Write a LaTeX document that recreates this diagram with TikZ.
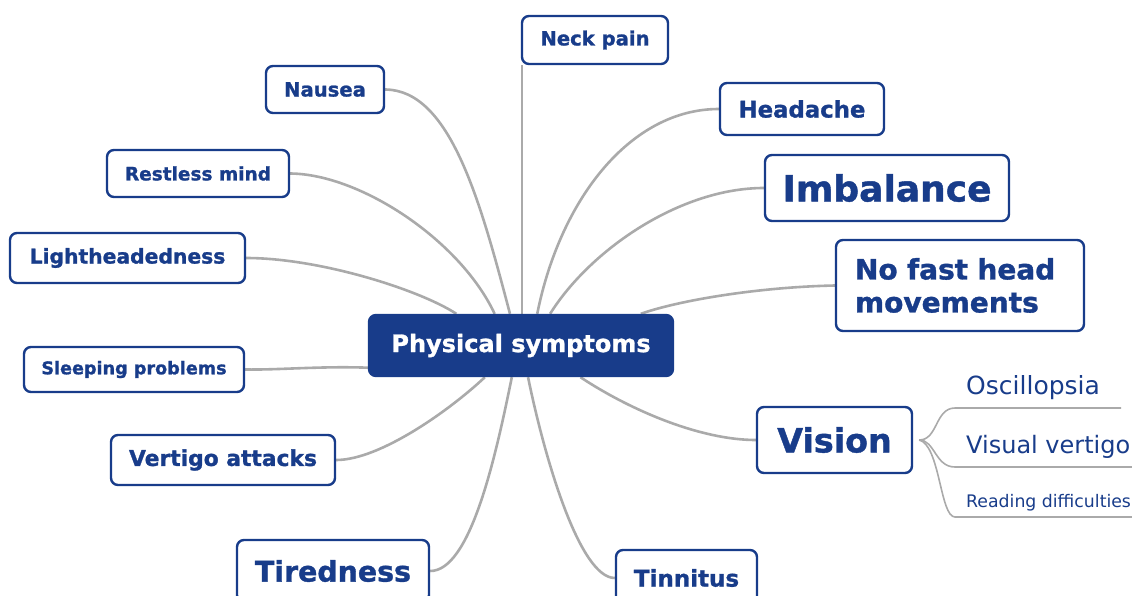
\documentclass[tikz,border=0pt]{standalone}
\usepackage{fontspec}
\setmainfont{DejaVu Sans}[BoldFeatures={FakeBold=1.2}]
\usetikzlibrary{calc,backgrounds}
\definecolor{navy}{RGB}{24,60,138}
\definecolor{conn}{RGB}{170,170,170}
\newcommand\fsz[1]{\fontsize{#1}{#1}\selectfont}
\begin{document}
\begin{tikzpicture}[x=1pt,y=-1pt,
  box/.style={draw=navy, line width=2.4pt, rounded corners=7pt, fill=white, text=navy, inner sep=0pt},
  link/.style={draw=conn, line width=2.6pt},
  sublink/.style={draw=conn, line width=1.6pt},
  sub/.style={text=navy, anchor=base west, inner sep=0pt}]
\useasboundingbox (0,0) rectangle (1132,595);
\clip (0,0) rectangle (1132,595);

% centre
\node[box, fill=navy, text=white, minimum width=304, minimum height=61, font=\bfseries\fsz{24}] (ps) at (521,345.5) {Physical symptoms};

% branches
\node[box, minimum width=146, minimum height=48, font=\bfseries\fsz{19.6}] (neck) at (595,40) {Neck pain};
\node[box, minimum width=118, minimum height=47, font=\bfseries\fsz{19.6}] (nausea) at (325,89.5) {Nausea};
\node[box, minimum width=164, minimum height=52, font=\bfseries\fsz{22.8}] (head) at (802,109) {Headache};
\node[box, minimum width=244, minimum height=66, font=\bfseries\fsz{36}] (imb) at (887,188) {Imbalance};
\node[box, text width=210, inner xsep=19, minimum height=91, align=left, font=\bfseries\fontsize{28}{33}\selectfont] (fast) at (960,285.5) {No fast head\\movements};
\node[box, minimum width=182, minimum height=47, font=\bfseries\fsz{18.5}] (rest) at (198,173.5) {Restless mind};
\node[box, minimum width=235, minimum height=50, font=\bfseries\fsz{20.3}] (light) at (127.5,258) {Lightheadedness};
\node[box, minimum width=220, minimum height=45, font=\bfseries\fsz{17.6}] (sleep) at (134,369.5) {Sleeping problems};
\node[box, minimum width=224, minimum height=50, font=\bfseries\fsz{21.8}] (vert) at (223,460) {Vertigo attacks};
\node[box, minimum width=192, minimum height=62, font=\bfseries\fsz{28.4}] (tired) at (333,571) {Tiredness};
\node[box, minimum width=141, minimum height=56, font=\bfseries\fsz{23}] (tinn) at (686.5,578) {Tinnitus};
\node[box, minimum width=155, minimum height=66, font=\bfseries\fsz{33.3}] (vision) at (834.5,440) {Vision};

% vision sub-items
\node[sub, font=\fsz{25}] (osc) at (966,394) {Oscillopsia};
\node[sub, font=\fsz{24}] (vv) at (966,453) {Visual vertigo};
\node[sub, font=\fsz{17.3}] (read) at (966,507) {Reading difficulties};

% anchor points on the centre box
\coordinate (t1) at ($(ps.north west)!0.289!(ps.north east)$);
\coordinate (t2) at ($(ps.north west)!0.414!(ps.north east)$);
\coordinate (t3) at ($(ps.north west)!0.464!(ps.north east)$);
\coordinate (t4) at ($(ps.north west)!0.503!(ps.north east)$);
\coordinate (t5) at ($(ps.north west)!0.553!(ps.north east)$);
\coordinate (t6) at ($(ps.north west)!0.595!(ps.north east)$);
\coordinate (t7) at ($(ps.north west)!0.891!(ps.north east)$);
\coordinate (b1) at ($(ps.south west)!0.382!(ps.south east)$);
\coordinate (b2) at ($(ps.south west)!0.470!(ps.south east)$);
\coordinate (b3) at ($(ps.south west)!0.523!(ps.south east)$);
\coordinate (b4) at ($(ps.south west)!0.694!(ps.south east)$);
\coordinate (w1) at ($(ps.north west)!0.85!(ps.south west)$);
\coordinate (vb) at ([xshift=6pt]vision.east);
\coordinate (o1) at (1121,408);
\coordinate (o2) at (1132,467);
\coordinate (o3) at (1132,517);

\begin{scope}[on background layer]
\draw[link] (t1) .. controls (420,290) and (320,258) .. (light.east);
\draw[link] (t2) .. controls (460,240) and (360,174) .. (rest.east);
\draw[link] (t3) .. controls (480,200) and (450,90) .. (nausea.east);
\draw[link] (t4) -- (t4 |- neck.south);
\draw[link] (t5) .. controls (560,200) and (630,109) .. (head.west);
\draw[link] (t6) .. controls (590,250) and (680,188) .. (imb.west);
\draw[link] (t7) .. controls (680,300) and (760,287) .. (fast.west);
\draw[link] (w1) .. controls (320,366) and (280,370) .. (sleep.east);
\draw[link] (b1) .. controls (450,410) and (380,460) .. (vert.east);
\draw[link] (b2) .. controls (495,460) and (470,571) .. (tired.east);
\draw[link] (b3) .. controls (545,460) and (580,578) .. (tinn.west);
\draw[link] (b4) .. controls (630,410) and (700,440) .. (vision.west);
\draw[sublink] (vb) .. controls (938,440) and (935,408) .. (955,408) -- (o1);
\draw[sublink] (vb) .. controls (935,440) and (935,467) .. (955,467) -- (o2);
\draw[sublink] (vb) .. controls (940,445) and (940,517) .. (955,517) -- (o3);
\end{scope}
\end{tikzpicture}
\end{document}
